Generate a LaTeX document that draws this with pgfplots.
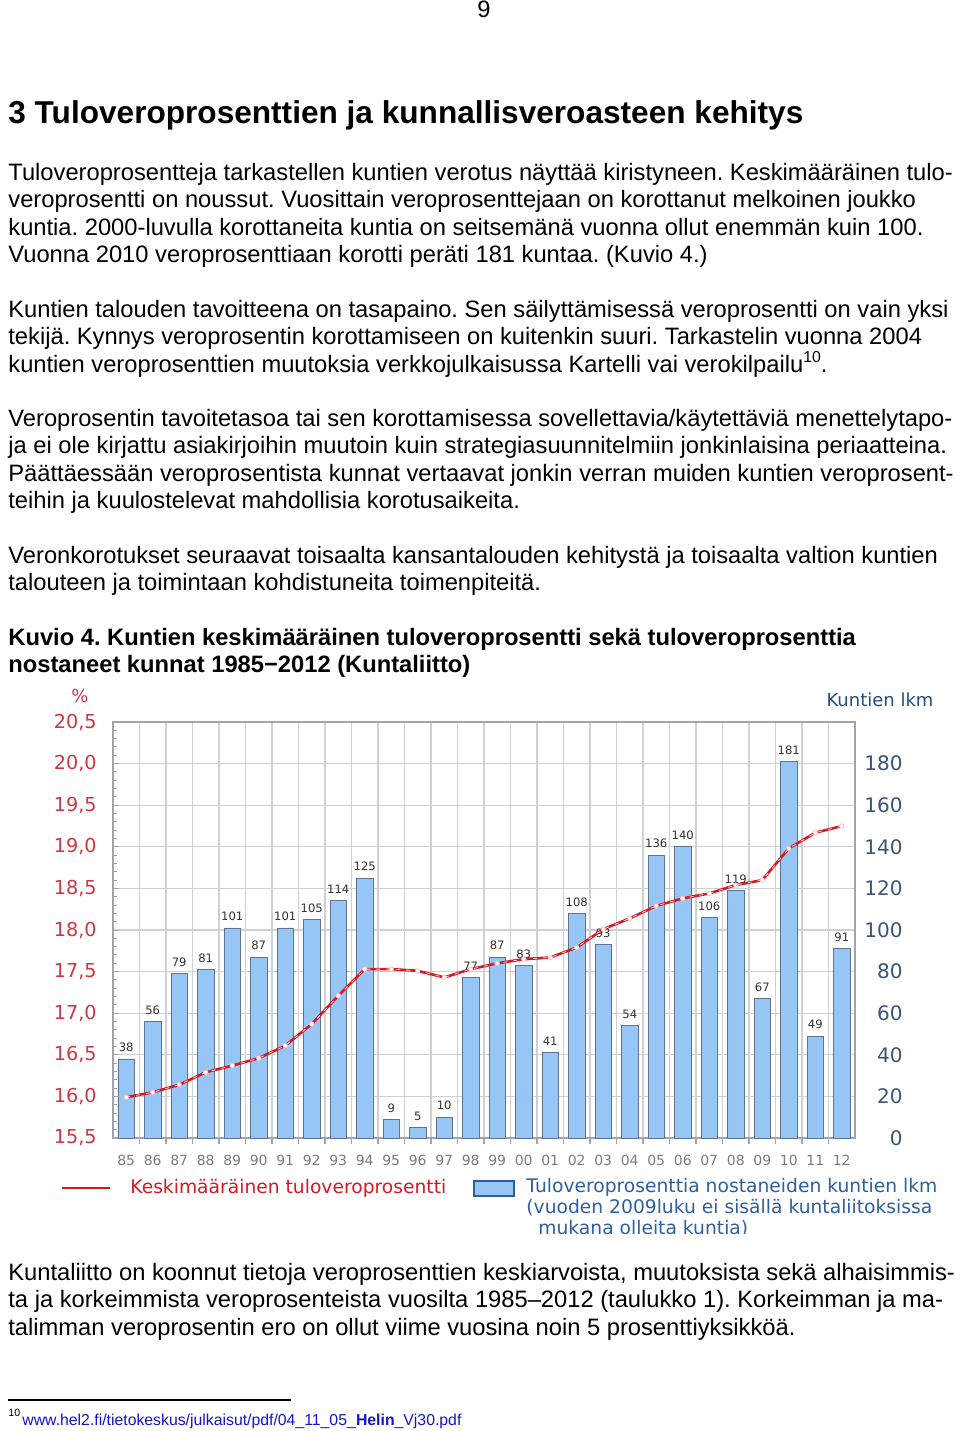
\documentclass[border=0pt]{standalone}
\usepackage{fontspec}
\setmainfont{Liberation Sans}
\newfontfamily\chartfont{DejaVu Sans}
\usepackage{pgfplots}
\usepackage{pgfplotstable}
\pgfplotsset{compat=1.18}
\definecolor{barblue}{RGB}{150,198,245}
\definecolor{baredge}{RGB}{95,115,145}
\definecolor{gridgray}{RGB}{205,208,212}
\definecolor{axisgray}{RGB}{160,165,170}
\definecolor{labred}{RGB}{205,55,65}
\definecolor{linered}{RGB}{215,25,35}
\definecolor{rblue}{RGB}{55,85,120}
\definecolor{legblue}{RGB}{45,95,160}
\definecolor{xgray}{RGB}{120,125,130}
\definecolor{linkblue}{RGB}{20,20,200}

\pgfplotstableread{
x n p
0 38 15.99
1 56 16.05
2 79 16.14
3 81 16.29
4 101 16.37
5 87 16.46
6 101 16.61
7 105 16.87
8 114 17.21
9 125 17.53
10 9 17.53
11 5 17.51
12 10 17.43
13 77 17.53
14 87 17.60
15 83 17.65
16 41 17.67
17 108 17.79
18 93 18.01
19 54 18.14
20 136 18.29
21 140 18.38
22 106 18.44
23 119 18.54
24 67 18.60
25 181 18.98
26 49 19.17
27 91 19.25
}\data

\begin{document}
\frenchspacing
\begin{tikzpicture}
\begin{scope}[x=0.5pt,y=-0.5pt]
\path[use as bounding box] (0,0) rectangle (960,1431);
\tikzset{txt/.style={anchor=base west, inner sep=0pt, font=\fontsize{11.86}{13.7}\selectfont},
  btxt/.style={txt, font=\fontsize{11.86}{13.7}\selectfont\bfseries}}
\node[txt, anchor=base] at (484,17) {9};
\node[anchor=base west, inner sep=0pt, font=\fontsize{15.8}{18}\selectfont\bfseries] at (8,123) {3 Tuloveroprosenttien ja kunnallisveroasteen kehitys};
% paragraph 1
\node[txt] at (8,180) {Tuloveroprosentteja tarkastellen kuntien verotus näyttää kiristyneen. Keskimääräinen tulo-};
\node[txt] at (8,207.5) {veroprosentti on noussut. Vuosittain veroprosenttejaan on korottanut melkoinen joukko};
\node[txt] at (8,235) {kuntia. 2000-luvulla korottaneita kuntia on seitsemänä vuonna ollut enemmän kuin 100.};
\node[txt] at (8,262.5) {Vuonna 2010 veroprosenttiaan korotti peräti 181 kuntaa. (Kuvio 4.)};
% paragraph 2
\node[txt] at (8,317) {Kuntien talouden tavoitteena on tasapaino. Sen säilyttämisessä veroprosentti on vain yksi};
\node[txt] at (8,344.5) {tekijä. Kynnys veroprosentin korottamiseen on kuitenkin suuri. Tarkastelin vuonna 2004};
\node[txt] at (8,372) {kuntien veroprosenttien muutoksia verkkojulkaisussa Kartelli vai verokilpailu\raisebox{0.75ex}{\fontsize{7.9}{9}\selectfont 10}.};
% paragraph 3
\node[txt] at (8,426) {Veroprosentin tavoitetasoa tai sen korottamisessa sovellettavia/käytettäviä menettelytapo-};
\node[txt] at (8,453.5) {ja ei ole kirjattu asiakirjoihin muutoin kuin strategiasuunnitelmiin jonkinlaisina periaatteina.};
\node[txt] at (8,481) {Päättäessään veroprosentista kunnat vertaavat jonkin verran muiden kuntien veroprosent-};
\node[txt] at (8,508.5) {teihin ja kuulostelevat mahdollisia korotusaikeita.};
% paragraph 4
\node[txt] at (8,563) {Veronkorotukset seuraavat toisaalta kansantalouden kehitystä ja toisaalta valtion kuntien};
\node[txt] at (8,590.5) {talouteen ja toimintaan kohdistuneita toimenpiteitä.};
% caption
\node[btxt] at (8,645) {Kuvio 4. Kuntien keskimääräinen tuloveroprosentti sekä tuloveroprosenttia};
\node[btxt] at (8,672.5) {nostaneet kunnat 1985−2012 (Kuntaliitto)};
% after chart
\node[txt] at (8,1280) {Kuntaliitto on koonnut tietoja veroprosenttien keskiarvoista, muutoksista sekä alhaisimmis-};
\node[txt] at (8,1307.5) {ta ja korkeimmista veroprosenteista vuosilta 1985–2012 (taulukko 1). Korkeimman ja ma-};
\node[txt] at (8,1335) {talimman veroprosentin ero on ollut viime vuosina noin 5 prosenttiyksikköä.};
% footnote
\draw[line width=0.6pt] (8,1400) -- (291,1400);
\node[anchor=base west, inner sep=0pt, font=\fontsize{5.3}{6}\selectfont] at (8,1416) {10};
\node[anchor=base west, inner sep=0pt, font=\fontsize{7.9}{9}\selectfont, text=linkblue] at (22,1425) {\underline{www.hel2.fi/tietokeskus/julkaisut/pdf/04\_11\_05\_\textbf{Helin}\_Vj30.pdf}};
% chart decorations
\node[font=\chartfont\fontsize{9}{10}\selectfont, text=labred] at (80,696) {\%};
\node[font=\chartfont\fontsize{9}{10}\selectfont, text=legblue!80!black] at (880,700) {Kuntien lkm};
% legend
\draw[linered, line width=1.3pt] (62,1188) -- (110,1188);
\node[anchor=west, inner sep=0pt, font=\chartfont\fontsize{9.35}{10}\selectfont, text=linered] at (130,1188) {Keskimääräinen tuloveroprosentti};
\draw[fill=barblue, draw=legblue, line width=1pt] (474,1181) rectangle (514,1196);
\node[anchor=west, inner sep=0pt, font=\chartfont\fontsize{9.35}{10}\selectfont, text=legblue] at (526,1187) {Tuloveroprosenttia nostaneiden kuntien lkm};
\node[anchor=west, inner sep=0pt, font=\chartfont\fontsize{9.35}{10}\selectfont, text=legblue] at (526,1208) {(vuoden 2009luku ei sisällä kuntaliitoksissa};
\begin{scope}
\clip (500,1215) rectangle (960,1233);
\node[anchor=west, inner sep=0pt, font=\chartfont\fontsize{9.35}{10}\selectfont, text=legblue] at (538,1229) {mukana olleita kuntia)};
\end{scope}
\end{scope}

% bars + grid + right axis
\begin{axis}[
  at={(56.5pt,-569pt)}, anchor=south west, scale only axis,
  width=371pt, height=208pt,
  xmin=-0.5, xmax=27.5, ymin=0, ymax=200,
  ybar, bar width=8.25pt,
  /pgf/number format/assume math mode=true,
  xtick={0,...,27},
  xticklabels={85,86,87,88,89,90,91,92,93,94,95,96,97,98,99,00,01,02,03,04,05,06,07,08,09,10,11,12},
  minor xtick={0.5,1.5,...,26.5},
  xminorgrids=true, ymajorgrids=true,
  minor x grid style={draw=gridgray, line width=0.6pt},
  major y grid style={draw=gridgray, line width=0.6pt},
  ytick={0,20,...,200},
  yticklabels={0,20,40,60,80,100,120,140,160,180,{}},
  major tick length=0pt, minor tick length=3pt, tick align=outside,
  xtick pos=left, ytick pos=right,
  minor tick style={draw=axisgray, line width=0.6pt},
  axis line style={draw=axisgray, line width=0.8pt},
  xticklabel style={font=\chartfont\fontsize{7}{8}\selectfont, text=xgray, yshift=-5pt},
  yticklabel style={font=\chartfont\fontsize{10}{12}\selectfont, text=rblue, anchor=east, inner sep=0pt, xshift=24pt},
  nodes near coords,
  nodes near coords style={font=\chartfont\fontsize{5.8}{7}\selectfont, text=black!80},
]
\addplot[fill=barblue, draw=baredge, line width=0.4pt] table[x=x, y=n] {\data};
\end{axis}

% line + left axis
\begin{axis}[
  at={(56.5pt,-569pt)}, anchor=south west, scale only axis,
  width=371pt, height=208pt,
  xmin=-0.5, xmax=27.5, ymin=15.5, ymax=20.5,
  hide x axis, axis y line*=left,
  ytick={15.5,16,...,20.5}, minor y tick num=4,
  /pgf/number format/assume math mode=true,
  yticklabel style={/pgf/number format/.cd, fixed, fixed zerofill, precision=1, use comma, /tikz/.cd,
    font=\chartfont\fontsize{9.6}{12}\selectfont, text=labred, anchor=east, inner sep=0pt, xshift=-8pt},
  tick align=inside, major tick length=3pt, minor tick length=2pt,
  tick style={draw=axisgray, line width=0.5pt},
  axis line style={draw=axisgray, line width=0.8pt},
]
\addplot[linered, line width=1.3pt] table[x=x, y=p] {\data};
\addplot[pink!70!white, line width=0.4pt, dash pattern=on 2pt off 3pt, mark=*, mark size=1.1pt,
  mark options={solid, fill=white, draw=pink}] table[x=x, y=p] {\data};
\end{axis}
\end{tikzpicture}
\end{document}
